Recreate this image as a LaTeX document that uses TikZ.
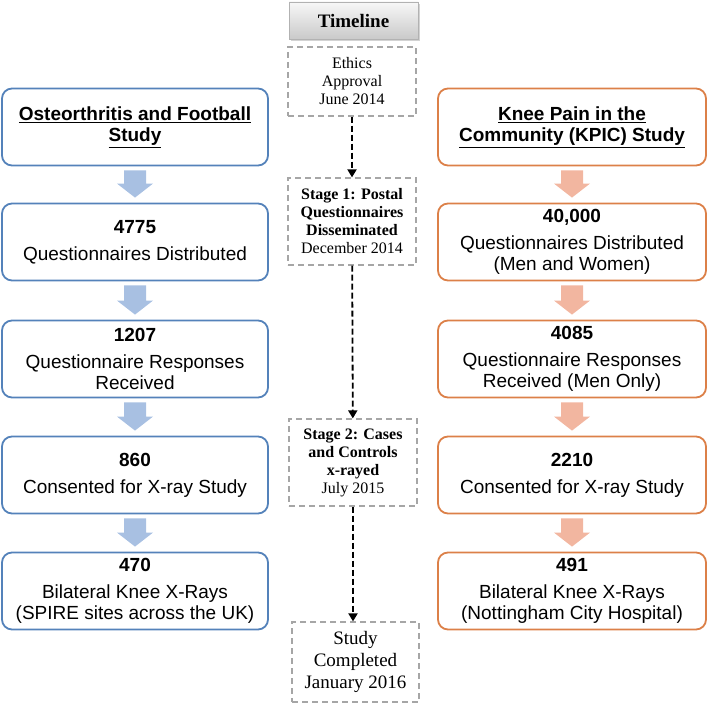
\documentclass[tikz,border=0pt]{standalone}
\usepackage{fontspec}
\setmainfont{Liberation Serif}
\newfontfamily\arial{Liberation Sans}
\usetikzlibrary{calc,arrows.meta,shadows}
\definecolor{lborder}{RGB}{84,130,186}
\definecolor{lfill}{RGB}{168,192,226}
\definecolor{rborder}{RGB}{220,128,72}
\definecolor{rfill}{RGB}{242,182,160}
\definecolor{tlgray}{RGB}{166,166,166}
\newcommand\blockarrow[3]{%
  \path (#1.south) coordinate (ta) (#2.north) coordinate (tb);
  \fill[#3] ($(ta)+(-11,4)$) -- ($(ta)+(11,4)$) -- ($(tb)+(11,-19)$) -- ($(tb)+(18,-19)$)
    -- ($(tb)+(0,-5)$) -- ($(tb)+(-18,-19)$) -- ($(tb)+(-11,-19)$) -- cycle;}
\begin{document}
\begin{tikzpicture}[x=1pt,y=-1pt,
  sbox/.style={rectangle,rounded corners=10pt,line width=1.8pt,fill=white,
    minimum height=77pt,align=center,inner sep=2pt,
    font=\arial\fontsize{19}{21}\selectfont},
  lbox/.style={sbox,draw=lborder,minimum width=266pt},
  rbox/.style={sbox,draw=rborder,minimum width=268pt},
  tbox/.style={rectangle,draw=tlgray,line width=1.2pt,dash pattern=on 6pt off 4pt,
    minimum width=128pt,align=center,inner sep=2pt,
    font=\fontsize{16}{18}\selectfont},
  tarrow/.style={line width=1.8pt,dash pattern=on 6pt off 3pt,
    -{Triangle[width=9pt,length=8pt]}}
]
\useasboundingbox (0,0) rectangle (708,703);

% left column
\node[lbox] (l1) at (135,127) {\bfseries\underline{Osteorthritis and Football}\\\bfseries\underline{Study}};
\node[lbox] (l2) at (135,242) {{\bfseries 4775}\\[6pt]Questionnaires Distributed};
\node[lbox] (l3) at (135,359) {{\bfseries 1207}\\[6pt]Questionnaire Responses\\Received};
\node[lbox] (l4) at (135,475) {{\bfseries 860}\\[6pt]Consented for X-ray Study};
\node[lbox] (l5) at (135,591) {{\bfseries 470}\\[6pt]Bilateral Knee X-Rays\\(SPIRE sites across the UK)};

% right column
\node[rbox] (r1) at (572,127) {\bfseries\underline{Knee Pain in the}\\\bfseries\underline{Community (KPIC) Study}};
\node[rbox] (r2) at (572,242) {{\bfseries 40,000}\\[6pt]Questionnaires Distributed\\(Men and Women)};
\node[rbox] (r3) at (572,359) {{\bfseries 4085}\\[6pt]Questionnaire Responses\\Received (Men Only)};
\node[rbox] (r4) at (572,475) {{\bfseries 2210}\\[6pt]Consented for X-ray Study};
\node[rbox] (r5) at (572,591) {{\bfseries 491}\\[6pt]Bilateral Knee X-Rays\\(Nottingham City Hospital)};

\blockarrow{l1}{l2}{lfill}
\blockarrow{l2}{l3}{lfill}
\blockarrow{l3}{l4}{lfill}
\blockarrow{l4}{l5}{lfill}
\blockarrow{r1}{r2}{rfill}
\blockarrow{r2}{r3}{rfill}
\blockarrow{r3}{r4}{rfill}
\blockarrow{r4}{r5}{rfill}

% timeline
\node[rectangle,draw=gray!60,line width=0.8pt,top color=gray!6,bottom color=gray!42,
  minimum width=129pt,minimum height=37pt,
  drop shadow={shadow xshift=1.5pt,shadow yshift=-2pt,opacity=0.35},
  font=\bfseries\fontsize{19}{21}\selectfont] (tl) at (353.5,20.5) {Timeline};
\node[tbox,minimum height=69pt] (t1) at (352,81.5) {Ethics\\Approval\\June 2014};
\node[tbox,minimum height=87pt] (t2) at (352,221.5) {\bfseries Stage 1: Postal\\\bfseries Questionnaires\\\bfseries Disseminated\\December 2014};
\node[tbox,minimum height=87pt] (t3) at (353,462.5) {\bfseries Stage 2: Cases\\\bfseries and Controls\\\bfseries x-rayed\\July 2015};
\node[tbox,minimum width=127pt,minimum height=80pt,font=\fontsize{19}{22}\selectfont] (t4) at (355.5,662) {Study\\Completed\\January 2016};

\draw[tarrow] (t1) -- (t2);
\draw[tarrow] (t2) -- (t3);
\draw[tarrow] (t3.south) -- (t3.south |- t4.north);
\end{tikzpicture}
\end{document}
